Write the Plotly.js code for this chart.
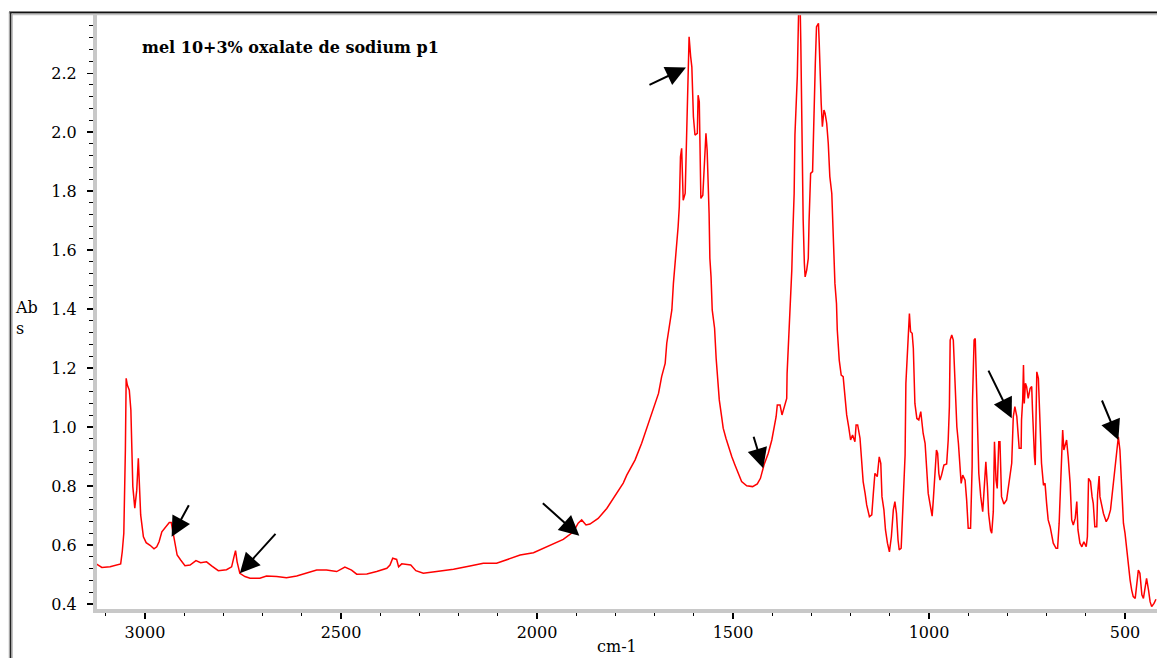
<!DOCTYPE html>
<html>
<head>
<meta charset="utf-8">
<script src="https://cdn.plot.ly/plotly-3.0.1.min.js"></script>
<style>
  html, body { margin: 0; padding: 0; background: #ffffff; }
  #chart { width: 1157px; height: 658px; }
</style>
</head>
<body>
<div id="chart"></div>
<script>
// ---- data ----
const wavenumber = [
  3125, 3110, 3089, 3062, 3058, 3054, 3050, 3048, 3045, 3040, 3036, 3034, 3031, 3026, 3021, 3017, 3014, 3011, 3004, 2997,
  2987, 2977, 2970, 2964, 2957, 2946, 2938, 2933, 2928, 2923, 2918, 2909, 2898, 2885, 2870, 2858, 2843, 2830, 2813, 2792,
  2779, 2773, 2769, 2765, 2758, 2745, 2732, 2707, 2690, 2664, 2639, 2613, 2588, 2562, 2537, 2511, 2490, 2473, 2460, 2434,
  2409, 2383, 2375, 2368, 2358, 2353, 2345, 2333, 2322, 2309, 2290, 2256, 2213, 2171, 2137, 2103, 2077, 2043, 2009, 1984,
  1958, 1933, 1907, 1895, 1886, 1875, 1865, 1844, 1822, 1797, 1780, 1771, 1750, 1733, 1716, 1703, 1690, 1682, 1673, 1669,
  1662, 1656, 1652, 1646, 1640, 1637, 1634, 1631, 1629, 1627, 1622, 1619, 1615, 1612, 1608, 1605, 1601, 1597, 1591, 1589,
  1586, 1584, 1582, 1577, 1574, 1571, 1569, 1566, 1563, 1561, 1559, 1556, 1553, 1547, 1543, 1539, 1535, 1529, 1525, 1518,
  1512, 1503, 1495, 1486, 1478, 1465, 1450, 1438, 1430, 1421, 1410, 1401, 1395, 1390, 1387, 1380, 1375, 1368, 1363, 1362,
  1358, 1355, 1350, 1348, 1344, 1342, 1339, 1336, 1332, 1329, 1327, 1325, 1322, 1321, 1318, 1316, 1312, 1308, 1306, 1302,
  1297, 1296, 1293, 1290, 1287, 1282, 1280, 1278, 1275, 1272, 1268, 1265, 1261, 1257, 1253, 1248, 1244, 1242, 1240, 1236,
  1234, 1229, 1224, 1219, 1214, 1210, 1205, 1200, 1195, 1189, 1186, 1182, 1176, 1172, 1168, 1163, 1159, 1152, 1146, 1142,
  1138, 1132, 1127, 1123, 1120, 1115, 1111, 1106, 1101, 1096, 1091, 1087, 1083, 1079, 1076, 1071, 1067, 1064, 1061, 1059,
  1055, 1053, 1050, 1047, 1043, 1040, 1036, 1031, 1026, 1021, 1018, 1015, 1010, 1006, 1002, 997, 992, 989, 985, 981,
  978, 975, 972, 968, 962, 955, 951, 948, 946, 942, 938, 934, 929, 925, 921, 918, 914, 908, 904, 900,
  894, 890, 889, 887, 885, 882, 880, 877, 873, 868, 863, 860, 857, 855, 851, 848, 843, 840, 836, 833,
  829, 826, 822, 819, 815, 809, 802, 795, 789, 785, 781, 776, 772, 770, 765, 764, 761, 759, 757, 754,
  751, 747, 742, 738, 736, 734, 731, 729, 727, 725, 721, 719, 717, 713, 708, 704, 700, 696, 691, 687,
  683, 676, 672, 668, 664, 661, 659, 656, 652, 649, 645, 640, 636, 632, 627, 623, 620, 615, 610, 605,
  599, 596, 593, 588, 584, 581, 577, 572, 570, 566, 564, 559, 555, 548, 543, 537, 530, 526, 521, 517,
  513, 508, 504, 500, 496, 492, 487, 483, 479, 474, 470, 466, 462, 457, 453, 448, 445, 440, 436, 432,
  426, 421
];
const absorbance = [
  0.536, 0.524, 0.526, 0.536, 0.577, 0.640, 0.922, 1.165, 1.142, 1.125, 1.058, 0.946, 0.798, 0.725, 0.786, 0.894, 0.809, 0.702, 0.628, 0.608,
  0.599, 0.587, 0.594, 0.611, 0.645, 0.662, 0.676, 0.676, 0.640, 0.600, 0.566, 0.549, 0.530, 0.532, 0.547, 0.540, 0.543, 0.529, 0.513, 0.516,
  0.526, 0.560, 0.581, 0.543, 0.504, 0.493, 0.487, 0.487, 0.495, 0.493, 0.489, 0.495, 0.504, 0.515, 0.515, 0.510, 0.525, 0.515, 0.501, 0.502,
  0.510, 0.521, 0.532, 0.555, 0.551, 0.526, 0.536, 0.533, 0.532, 0.513, 0.504, 0.510, 0.518, 0.529, 0.538, 0.538, 0.549, 0.566, 0.574, 0.589,
  0.606, 0.619, 0.645, 0.674, 0.685, 0.668, 0.671, 0.690, 0.724, 0.775, 0.810, 0.837, 0.888, 0.945, 1.013, 1.058, 1.114, 1.171, 1.216, 1.284,
  1.340, 1.397, 1.487, 1.577, 1.679, 1.747, 1.916, 1.945, 1.849, 1.769, 1.792, 1.984, 2.221, 2.323, 2.256, 2.221, 2.052, 1.990, 1.996, 2.125,
  2.103, 1.939, 1.775, 1.786, 1.854, 1.939, 1.996, 1.939, 1.820, 1.724, 1.572, 1.509, 1.397, 1.335, 1.233, 1.159, 1.092, 1.035, 0.996, 0.962,
  0.933, 0.899, 0.871, 0.843, 0.815, 0.801, 0.798, 0.807, 0.826, 0.871, 0.911, 0.956, 0.996, 1.035, 1.075, 1.075, 1.041, 1.075, 1.097, 1.182,
  1.284, 1.374, 1.532, 1.634, 1.792, 1.990, 2.086, 2.188, 2.450, 2.450, 2.300, 2.075, 1.849, 1.702, 1.555, 1.509, 1.532, 1.572, 1.696, 1.860,
  1.866, 1.928, 2.086, 2.233, 2.357, 2.369, 2.300, 2.176, 2.097, 2.018, 2.075, 2.063, 2.030, 1.962, 1.849, 1.792, 1.645, 1.566, 1.487, 1.419,
  1.329, 1.227, 1.176, 1.171, 1.103, 1.041, 1.001, 0.956, 0.973, 0.950, 1.007, 1.007, 0.962, 0.877, 0.815, 0.775, 0.736, 0.696, 0.702, 0.775,
  0.843, 0.832, 0.899, 0.877, 0.764, 0.719, 0.651, 0.606, 0.577, 0.628, 0.719, 0.747, 0.707, 0.617, 0.583, 0.589, 0.707, 0.820, 0.905, 1.148,
  1.267, 1.340, 1.385, 1.323, 1.318, 1.267, 1.080, 1.029, 1.024, 1.052, 1.013, 0.979, 0.945, 0.866, 0.775, 0.736, 0.698, 0.753, 0.832, 0.922,
  0.911, 0.843, 0.820, 0.837, 0.871, 0.875, 0.956, 1.069, 1.295, 1.312, 1.295, 1.171, 1.001, 0.945, 0.843, 0.809, 0.837, 0.820, 0.753, 0.657,
  0.657, 0.866, 1.092, 1.222, 1.295, 1.300, 1.204, 1.035, 0.843, 0.764, 0.713, 0.775, 0.854, 0.882, 0.798, 0.707, 0.651, 0.640, 0.713, 0.950,
  0.820, 0.792, 0.950, 0.950, 0.764, 0.739, 0.753, 0.820, 0.877, 1.035, 1.069, 1.035, 0.979, 0.928, 0.928, 1.024, 1.092, 1.210, 1.080, 1.148,
  1.137, 1.097, 1.131, 1.137, 1.058, 0.973, 0.899, 0.871, 1.035, 1.187, 1.165, 1.092, 0.967, 0.877, 0.803, 0.809, 0.741, 0.685, 0.662, 0.628,
  0.606, 0.589, 0.589, 0.674, 0.820, 0.922, 0.990, 0.922, 0.945, 0.956, 0.899, 0.809, 0.685, 0.668, 0.691, 0.747, 0.651, 0.606, 0.594, 0.611,
  0.594, 0.628, 0.826, 0.815, 0.764, 0.741, 0.662, 0.662, 0.769, 0.834, 0.764, 0.736, 0.707, 0.679, 0.691, 0.719, 0.809, 0.854, 0.922, 0.967,
  0.922, 0.798, 0.674, 0.640, 0.589, 0.526, 0.481, 0.447, 0.425, 0.419, 0.459, 0.515, 0.504, 0.431, 0.419, 0.470, 0.487, 0.447, 0.408, 0.391,
  0.402, 0.416
];
// points marked by the black arrows
const arrowWavenumber = [2932, 2758, 1892, 1620, 1423, 789, 517];
const arrowAbsorbance = [0.628, 0.504, 0.631, 2.219, 0.860, 1.030, 0.956];

const titleText = 'mel 10+3% oxalate de sodium p1';
const xLabel = 'cm-1';
const yLabel = 'Ab<br>s';

// ---- layout geometry (pixels) ----
const W = 1157, H = 658;
const M = { l: 97, r: 0, t: 15, b: 49 };
const PW = W - M.l - M.r, PH = H - M.t - M.b;
const px = v => (v - M.l) / PW;          // pixel x -> paper x
const py = v => (H - M.b - v) / PH;      // pixel y -> paper y

// arrow tails, offsets in pixels from the tip
const arrowTailDX = [18, 37, -38, -38, -10, -24, -17];
const arrowTailDY = [-33, -41, -34, 18, -33, -49, -41];

const serif = 'DejaVu Serif, serif';

const trace = {
  type: 'scatter', mode: 'lines',
  x: wavenumber, y: absorbance,
  line: { color: '#ff0000', width: 1.5 },
  hoverinfo: 'skip'
};

const annotations = [];
for (let i = 0; i < arrowWavenumber.length; i++) {
  annotations.push({
    x: arrowWavenumber[i], y: arrowAbsorbance[i], xref: 'x', yref: 'y',
    text: '', showarrow: true, arrowhead: 2, arrowsize: 2, arrowwidth: 2,
    arrowcolor: '#000000', ax: arrowTailDX[i], ay: arrowTailDY[i], standoff: 0
  });
}
annotations.push({
  xref: 'paper', yref: 'paper', x: px(13), y: py(318), xanchor: 'left', yanchor: 'middle',
  align: 'left', showarrow: false, text: yLabel,
  font: { family: serif, size: 16, color: '#000' }
});
annotations.push({
  xref: 'paper', yref: 'paper', x: px(617), y: py(646), xanchor: 'center', yanchor: 'middle',
  showarrow: false, text: xLabel,
  font: { family: serif, size: 16, color: '#000' }
});

const shapes = [
  // outer frame (top and left)
  { type: 'line', xref: 'paper', yref: 'paper', x0: px(9), x1: px(1160), y0: py(12.5), y1: py(12.5),
    line: { color: '#111111', width: 2 } },
  { type: 'line', xref: 'paper', yref: 'paper', x0: px(12), x1: px(1160), y0: py(14.5), y1: py(14.5),
    line: { color: '#c4c4c4', width: 1.5 } },
  { type: 'line', xref: 'paper', yref: 'paper', x0: px(9.3), x1: px(9.3), y0: py(12), y1: py(670),
    line: { color: '#9a9a9a', width: 1 } },
  { type: 'line', xref: 'paper', yref: 'paper', x0: px(10.7), x1: px(10.7), y0: py(12), y1: py(670),
    line: { color: '#222222', width: 1.5 } },
  { type: 'line', xref: 'paper', yref: 'paper', x0: px(12.2), x1: px(12.2), y0: py(13), y1: py(670),
    line: { color: '#a8a8a8', width: 1 } }
];

const layout = {
  width: W, height: H,
  margin: M,
  font: { family: serif, color: '#000' },
  paper_bgcolor: '#ffffff', plot_bgcolor: '#ffffff',
  showlegend: false,
  title: {
    text: '<b>' + titleText + '</b>',
    font: { family: serif, size: 16, color: '#000' },
    xref: 'container', yref: 'container',
    x: 142 / W, xanchor: 'left', y: 1 - 47 / H, yanchor: 'middle'
  },
  xaxis: {
    range: [3122.4, 418.4], autorange: false,
    showgrid: false, zeroline: false,
    showline: true, linecolor: '#c8c8c8', linewidth: 4,
    ticks: 'outside', ticklen: 6, tickwidth: 1.2, tickcolor: '#000',
    tick0: 0, dtick: 500, tickformat: 'd',
    minor: { dtick: 100, tick0: 0, ticks: 'outside', ticklen: 3, tickcolor: '#000', tickwidth: 1, showgrid: false },
    tickfont: { family: serif, size: 16, color: '#000' },
    fixedrange: true
  },
  yaxis: {
    range: [0.383, 2.397], autorange: false,
    showgrid: false, zeroline: false,
    showline: true, linecolor: '#c8c8c8', linewidth: 4,
    ticks: 'outside', ticklen: 6, tickwidth: 1.2, tickcolor: '#000',
    tick0: 0, dtick: 0.2, tickformat: '.1f',
    minor: { dtick: 0.04, tick0: 0, ticks: 'outside', ticklen: 4, tickcolor: '#000', tickwidth: 1, showgrid: false },
    tickfont: { family: serif, size: 16, color: '#000' },
    ticklabelstandoff: 7,
    fixedrange: true
  },
  annotations: annotations,
  shapes: shapes
};

Plotly.newPlot('chart', [trace], layout, { displayModeBar: false, staticPlot: true });
</script>
</body>
</html>
